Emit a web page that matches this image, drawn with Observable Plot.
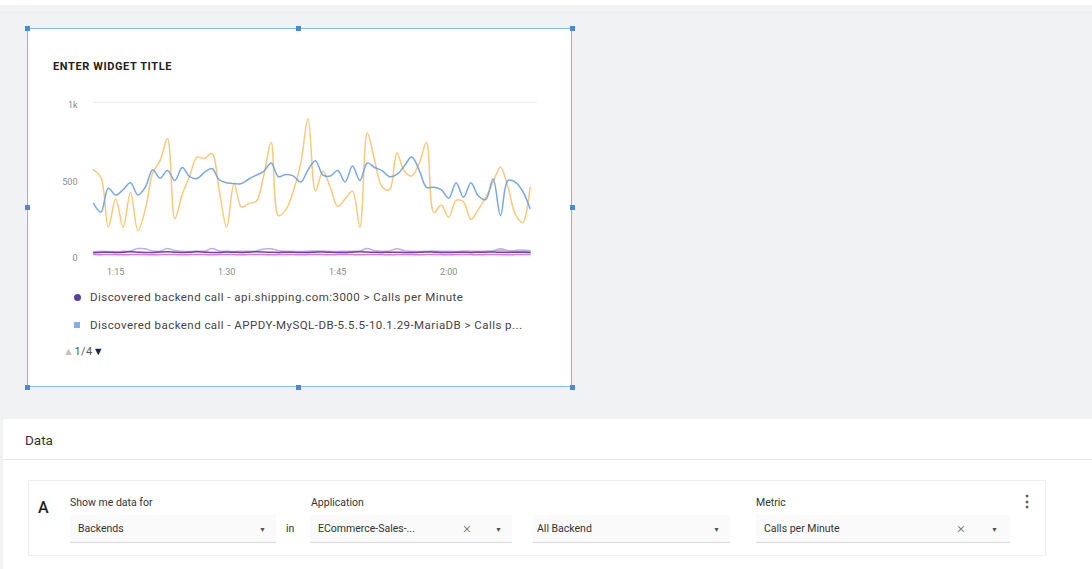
<!DOCTYPE html>
<html>
<head>
<meta charset="utf-8">
<script src="https://cdn.jsdelivr.net/npm/d3@7"></script>
<script src="https://cdn.jsdelivr.net/npm/@observablehq/plot@0.6"></script>
<style>
  html, body { margin: 0; padding: 0; }
  body { width: 1092px; height: 569px; overflow: hidden; background: #f1f2f4; position: relative; font-family: Roboto, "Noto Sans", sans-serif; color: #333; }
  .abs { position: absolute; white-space: nowrap; }
  #topbar { left: 0; top: 0; width: 1092px; height: 5px; background: #fff; }
  #topline { left: 0; top: 11px; width: 1092px; height: 3px; background: #eceef1; }
  #widget { left: 27px; top: 28px; width: 545px; height: 359px; background: #fff; border: 1px solid #8fb4e8; box-sizing: border-box; }
  .handle { position: absolute; width: 5px; height: 5px; background: #4f86d6; }
  #wtitle { left: 53px; top: 60px; font-size: 11px; line-height: 14px; font-weight: 700; color: #222; letter-spacing: 0.6px; }
  #chart { left: 27px; top: 90px; }
  .leg { font-size: 11.5px; line-height: 14px; color: #444; letter-spacing: 0.45px; }
  #pager { left: 63px; top: 345px; font-size: 11px; line-height: 14px; color: #555; letter-spacing: 0.5px; }
  #datapanel { left: 3px; top: 419px; width: 1089px; height: 150px; background: #fff; }
  #datatitle { left: 25px; top: 431px; font-size: 13.5px; line-height: 18px; color: #333; }
  #divider { left: 3px; top: 459px; width: 1089px; height: 1px; background: #e6e7ea; }
  #card { left: 28px; top: 480px; width: 1018px; height: 76px; border: 1px solid #eceef0; box-sizing: border-box; background: #fff; }
  .lbl { font-size: 10.5px; line-height: 14px; color: #333; }
  .val { font-size: 10.5px; line-height: 14px; color: #333; }
  .box { height: 28px; top: 515px; background: #fafafb; border-bottom: 1px solid #d9dadd; box-sizing: border-box; }
  .arrow { font-size: 7px; line-height: 10px; color: #555; }
  .xx { font-size: 15px; line-height: 16px; color: #666; font-weight: 300; }
</style>
</head>
<body>
<div class="abs" id="topbar"></div>
<div class="abs" id="topline"></div>
<div class="abs" id="widget"></div>
<div id="handles"></div>
<div class="abs" id="wtitle">ENTER WIDGET TITLE</div>
<div class="abs" id="chart"></div>
<div id="legend"></div>
<div class="abs" id="pager"><span style="color:#c4c4c4">&#9650;</span>1/4<span style="color:#1b2747">&#9660;</span></div>

<div class="abs" id="datapanel"></div>
<div class="abs" id="datatitle">Data</div>
<div class="abs" id="divider"></div>
<div class="abs" id="card"></div>
<div id="form"></div>

<script>
// ---------- data ----------
const startTime = "1:12";               // first sample, one sample per minute
const xTickLabels = ["1:15", "1:30", "1:45", "2:00"];
const yTickValues = [0, 500, 1000];
const yTickLabels = ["0", "500", "1k"];

const seriesNames = [
  "Discovered backend call - api.shipping.com:3000 > Calls per Minute",
  "Discovered backend call - APPDY-MySQL-DB-5.5.5-10.1.29-MariaDB > Calls per Minute",
  "Backend C", "Backend D", "Backend E", "Backend F"
];
const seriesColors = ["#5a3ea6", "#70a3e4", "#f8c672", "#b8aae8", "#e56fd4", "#b9bcc4"];

const shippingValues = [18,20,22,19,21,24,22,20,19,23,25,22,20,21,24,22,19,20,23,21,20,22,24,23,21,20,22,21,19,20,22,23,21,20,19,22,24,23,21,20,22,21,20,19,21,23,22,20,19,21,22,20,21,22,23,21,20,22,21,20];
const mysqlValues = [340,283,440,395,430,475,395,446,560,505,555,490,575,515,503,544,568,495,475,470,470,500,525,550,605,515,530,520,480,560,620,525,520,555,480,585,490,605,575,555,515,530,585,643,560,446,446,430,375,475,381,475,390,365,500,260,490,480,420,307];
const backendCValues = [560,510,185,370,185,414,163,300,540,620,765,240,400,520,643,635,666,420,185,470,316,340,355,520,741,260,300,420,600,893,420,550,446,320,370,420,185,800,620,450,430,670,550,520,600,740,280,330,250,360,350,235,300,380,480,577,450,270,215,446];
const backendDValues = [25,27,26,24,28,30,45,44,30,28,46,32,27,26,29,28,45,30,27,26,28,27,30,42,44,31,28,27,26,28,30,29,27,26,28,27,30,46,32,28,30,44,31,27,26,28,29,27,28,26,30,28,27,29,31,44,33,28,27,26];
const backendEValues = [6,5,7,6,5,6,7,6,5,6,7,6,5,6,7,6,5,6,7,6,5,6,7,6,5,6,7,6,5,6,7,6,5,6,7,6,5,6,7,6,5,6,7,6,5,6,7,6,5,6,7,6,5,6,7,6,5,6,7,6];
const backendFValues = [null,null,null,null,null,null,null,null,null,null,null,null,null,null,null,null,null,null,null,null,null,null,null,null,null,null,null,null,null,null,null,null,null,null,null,null,null,null,null,null,null,null,null,null,null,null,null,null,null,null,null,null,null,null,30,34,28,33,36,32];

// ---------- build table ----------
const [h0, m0] = startTime.split(":").map(Number);
const t0 = Date.UTC(2020, 0, 1, h0, m0);
const toTime = (i) => new Date(t0 + i * 60000);
const parseLabel = (s) => { const [h, m] = s.split(":").map(Number); return new Date(Date.UTC(2020, 0, 1, h, m)); };

const allValues = [shippingValues, mysqlValues, backendCValues, backendDValues, backendEValues, backendFValues];
const drawOrder = [4, 5, 3, 0, 2, 1];
const rows = [];
for (const s of drawOrder) {
  allValues[s].forEach((v, i) => { if (v != null) rows.push({ series: seriesNames[s], time: toTime(i), value: v }); });
}

const W = 520, H = 190;
const xEnd = new Date(t0 + shippingValues.length * 60000);
const xTickDates = xTickLabels.map(parseLabel);
const plot = Plot.plot({
  width: W, height: H,
  marginLeft: 66, marginRight: 10, marginTop: 12, marginBottom: 25,
  style: { fontFamily: "Roboto, sans-serif", fontSize: "9px", color: "#8a8a8a", background: "transparent" },
  x: { type: "utc", domain: [new Date(t0), xEnd], label: null },
  y: { domain: [0, 1000], label: null },
  color: { domain: seriesNames, range: seriesColors },
  marks: [
    Plot.ruleY([1000], { stroke: "#ececec", strokeWidth: 1 }),
    Plot.axisX({ ticks: xTickDates, tickFormat: (d) => xTickLabels[xTickDates.findIndex(t => +t === +d)], tickSize: 0, tickPadding: 13, fill: "#8a8a8a", label: null }),
    Plot.axisY({ ticks: yTickValues, tickFormat: (d) => yTickLabels[yTickValues.indexOf(d)], tickSize: 0, tickPadding: 16, dy: 3, fill: "#8a8a8a", label: null }),
    Plot.line(rows, { x: "time", y: "value", z: "series", stroke: "series", curve: "catmull-rom", strokeWidth: 1.5, strokeOpacity: 0.95 })
  ]
});
document.getElementById("chart").appendChild(plot);

// ---------- legend ----------
const legend = document.getElementById("legend");
const legendItems = [
  { name: seriesNames[0], color: seriesColors[0], shape: "circle", y: 297 },
  { name: "Discovered backend call - APPDY-MySQL-DB-5.5.5-10.1.29-MariaDB > Calls p...", color: "#7fb0ef", shape: "square", y: 325 }
];
for (const it of legendItems) {
  const sw = document.createElement("div");
  sw.className = "abs";
  const s = it.shape === "circle" ? 7 : 6;
  sw.style.cssText = `left:${77 - s/2}px;top:${it.y - s/2}px;width:${s}px;height:${s}px;background:${it.color};border-radius:${it.shape === "circle" ? "50%" : "0"}`;
  legend.appendChild(sw);
  const tx = document.createElement("div");
  tx.className = "abs leg";
  tx.style.left = "90px"; tx.style.top = (it.y - 7) + "px";
  tx.textContent = it.name;
  legend.appendChild(tx);
}

// ---------- selection handles ----------
const handles = document.getElementById("handles");
for (const [x, y] of [[27,28],[298,28],[572,28],[27,207],[572,207],[27,387],[298,387],[572,387]]) {
  const h = document.createElement("div");
  h.className = "handle";
  h.style.left = (x - 2.5) + "px"; h.style.top = (y - 2.5) + "px";
  handles.appendChild(h);
}

// ---------- data form ----------
const form = document.getElementById("form");
function put(cls, text, left, top, extra) {
  const d = document.createElement("div");
  d.className = "abs " + cls;
  d.style.left = left + "px"; d.style.top = top + "px";
  if (extra) d.style.cssText += extra;
  d.textContent = text;
  form.appendChild(d);
  return d;
}
put("", "A", 38, 498, "font-size:16px;line-height:20px;font-weight:500;color:#222");
const boxes = [[70, 276], [310, 512], [533, 730], [756, 1010]];
for (const [a, b] of boxes) put("box", "", a, 515, `width:${b - a}px`);
put("lbl", "Show me data for", 70, 496);
put("lbl", "Application", 311, 496);
put("lbl", "Metric", 756, 496);
put("val", "Backends", 78, 522);
put("val", "in", 286, 522);
put("val", "ECommerce-Sales-...", 318, 522);
put("val", "All Backend", 537, 522);
put("val", "Calls per Minute", 764, 522);
put("xx", "\u00D7", 463, 520);
put("xx", "\u00D7", 957, 520);
put("arrow", "\u25BC", 259, 525);
put("arrow", "\u25BC", 495, 525);
put("arrow", "\u25BC", 713, 525);
put("arrow", "\u25BC", 991, 525);
put("", "\u22EE", 1019, 492, "font-size:16px;line-height:20px;color:#555;font-weight:700");
</script>
</body>
</html>
